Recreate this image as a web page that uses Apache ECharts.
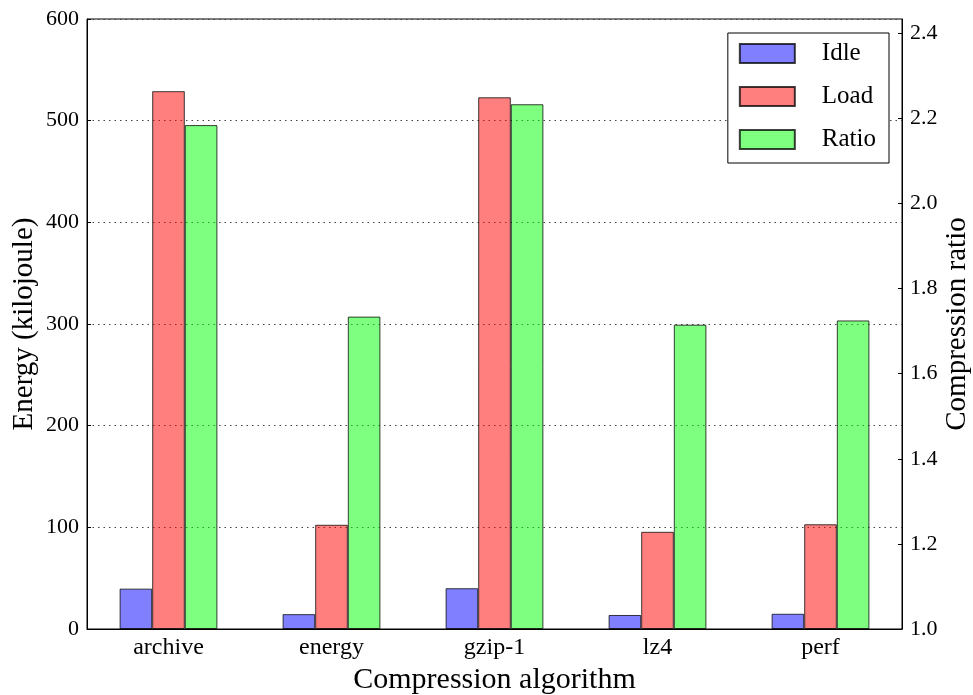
<!DOCTYPE html>
<html>
<head>
<meta charset="utf-8">
<script src="https://cdn.jsdelivr.net/npm/echarts@6/dist/echarts.min.js"></script>
<style>html,body{margin:0;padding:0;background:#fff}#c{width:973px;height:695px}</style>
</head>
<body>
<div id="c"></div>
<script>
const categories = ['archive', 'energy', 'gzip-1', 'lz4', 'perf'];
const idle = [39.7, 14.6, 40.1, 13.8, 15.0];
const load = [529, 102.5, 523, 95.6, 103];
const ratio = [2.184, 1.734, 2.233, 1.715, 1.725];
const seriesNames = ['Idle', 'Load', 'Ratio'];
const energyTicks = { min: 0, max: 600, interval: 100 };
const ratioTicks = { min: 1.0, max: 2.4333, interval: 0.2 };

const FONT = 'Liberation Serif';
const chart = echarts.init(document.getElementById('c'), null, { renderer: 'canvas' });
const border = { borderColor: 'rgba(0,0,0,0.75)', borderWidth: 1 };
chart.setOption({
  animation: false,
  backgroundColor: '#fff',
  textStyle: { fontFamily: FONT, color: '#000' },
  grid: { left: 87, right: 71, top: 19, bottom: 66, show: true, borderColor: '#000', borderWidth: 1,
          backgroundColor: 'transparent', containLabel: false, outerBoundsMode: 'none' },
  legend: {
    orient: 'vertical', right: 84, top: 33,
    data: seriesNames,
    itemWidth: 55, itemHeight: 19, itemGap: 18,
    padding: [8, 13, 11, 11],
    borderColor: '#000', borderWidth: 1, borderRadius: 0,
    backgroundColor: '#fff',
    icon: 'rect',
    textStyle: { fontFamily: FONT, fontSize: 25, color: '#000', lineHeight: 24, padding: [0, 0, 0, 22] }
  },
  xAxis: {
    type: 'category', data: categories,
    axisLine: { lineStyle: { color: '#000', width: 1 } },
    axisTick: { inside: true, alignWithLabel: true, length: 4, lineStyle: { color: '#000' } },
    axisLabel: { fontFamily: FONT, fontSize: 24, color: '#000', margin: 7 },
    name: 'Compression algorithm', nameLocation: 'middle', nameGap: 36,
    nameTextStyle: { fontFamily: FONT, fontSize: 30, color: '#000' }
  },
  yAxis: [
    {
      type: 'value', min: energyTicks.min, max: energyTicks.max, interval: energyTicks.interval,
      axisLine: { show: true, lineStyle: { color: '#000' } },
      axisTick: { show: true, inside: true, length: 4, lineStyle: { color: '#000' } },
      axisLabel: { fontFamily: FONT, fontSize: 22, color: '#000', margin: 8 },
      splitLine: { show: true, lineStyle: { color: '#444', type: [1.5, 4], width: 1 } },
      name: 'Energy (kilojoule)', nameLocation: 'middle', nameGap: 48, nameRotate: 90, nameMoveOverlap: false,
      nameTextStyle: { fontFamily: FONT, fontSize: 29, color: '#000' }
    },
    {
      type: 'value', min: ratioTicks.min, max: ratioTicks.max, interval: ratioTicks.interval,
      position: 'right', startValue: 1.0,
      axisLine: { show: true, lineStyle: { color: '#000' } },
      axisTick: { show: true, inside: true, length: 4, lineStyle: { color: '#000' } },
      axisLabel: {
        fontFamily: FONT, fontSize: 22, color: '#000', margin: 8, showMaxLabel: false,
        formatter: v => (Math.abs(v * 5 - Math.round(v * 5)) < 1e-6 ? v.toFixed(1) : '')
      },
      splitLine: { show: false },
      name: 'Compression ratio', nameLocation: 'middle', nameGap: 41, nameRotate: 90, nameMoveOverlap: false,
      nameTextStyle: { fontFamily: FONT, fontSize: 29, color: '#000' }
    }
  ],
  series: [
    { name: seriesNames[0], type: 'bar', data: idle, yAxisIndex: 0, barWidth: '20%', barGap: '0%', clip: true,
      itemStyle: Object.assign({ color: 'rgba(0,0,255,0.5)' }, border) },
    { name: seriesNames[1], type: 'bar', data: load, yAxisIndex: 0, barWidth: '20%', barGap: '0%', clip: true,
      itemStyle: Object.assign({ color: 'rgba(255,0,0,0.5)' }, border) },
    { name: seriesNames[2], type: 'bar', data: ratio, yAxisIndex: 1, barWidth: '20%', barGap: '0%', clip: true,
      itemStyle: Object.assign({ color: 'rgba(0,255,0,0.5)' }, border) }
  ]
});
</script>
</body>
</html>
